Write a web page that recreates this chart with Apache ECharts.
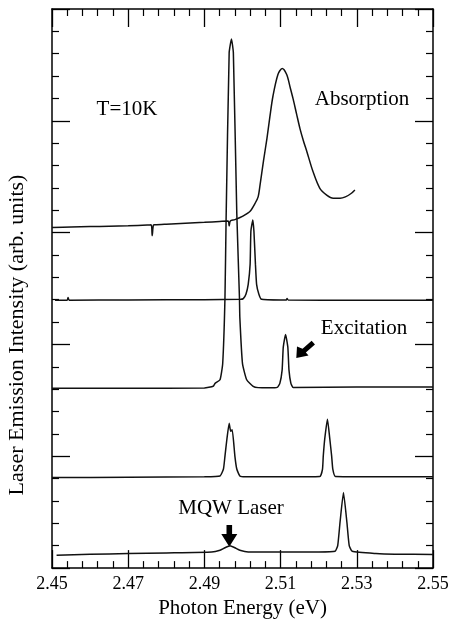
<!DOCTYPE html>
<html>
<head>
<meta charset="utf-8">
<script src="https://cdn.jsdelivr.net/npm/echarts@6/dist/echarts.min.js"></script>
<style>
html,body{margin:0;padding:0;background:#fff;}
#chart{width:453px;height:624px;}
</style>
</head>
<body>
<div id="chart"></div>
<script>
// Photon energy (eV) and intensity (arb. units, vertically offset traces)
const absE = [2.450, 2.455, 2.460, 2.465, 2.470, 2.475, 2.476, 2.4763, 2.4766, 2.477, 2.480, 2.485, 2.490, 2.494, 2.4962, 2.4965, 2.4968, 2.498, 2.5001, 2.502, 2.5033, 2.5041, 2.5046, 2.5055, 2.5064, 2.5072, 2.5080, 2.5093, 2.5104, 2.5116, 2.5125, 2.5133, 2.5142, 2.5151, 2.5160, 2.5169, 2.5185, 2.5203, 2.5221, 2.5238, 2.5256, 2.5270, 2.5285, 2.5295];
const absI = [15.23, 15.25, 15.27, 15.29, 15.31, 15.34, 15.35, 14.87, 15.33, 15.35, 15.38, 15.42, 15.46, 15.50, 15.52, 15.30, 15.52, 15.58, 15.74, 15.96, 16.31, 16.60, 17.12, 18.20, 19.19, 20.20, 21.11, 22.07, 22.34, 22.07, 21.50, 20.97, 20.30, 19.64, 19.10, 18.62, 17.73, 16.98, 16.68, 16.54, 16.54, 16.60, 16.75, 16.91];

const trace2E = [2.4508, 2.4540, 2.4542, 2.4545, 2.470, 2.490, 2.4995, 2.5002, 2.5009, 2.5015, 2.5020, 2.5022, 2.5027, 2.5030, 2.5034, 2.5037, 2.5043, 2.5050, 2.510, 2.5115, 2.5117, 2.5120, 2.530, 2.550];
const trace2I = [11.98, 11.98, 12.10, 11.98, 11.99, 12.00, 12.02, 12.05, 12.25, 12.69, 13.58, 15.06, 15.57, 15.06, 13.58, 12.69, 12.25, 12.02, 11.99, 11.99, 12.05, 11.99, 11.98, 11.98];

const excE = [2.450, 2.470, 2.490, 2.4923, 2.4928, 2.4941, 2.4948, 2.4954, 2.4957, 2.4965, 2.4971, 2.4976, 2.4985, 2.4992, 2.4993, 2.5000, 2.5011, 2.5028, 2.5041, 2.5070, 2.5091, 2.5098, 2.5104, 2.5107, 2.5113, 2.5119, 2.5122, 2.5127, 2.5133, 2.530, 2.550];
const excI = [8.04, 8.04, 8.05, 8.13, 8.26, 8.42, 9.14, 12.10, 15.65, 23.05, 23.66, 23.05, 15.87, 12.10, 11.21, 9.14, 8.42, 8.13, 8.07, 8.06, 8.08, 8.26, 8.85, 9.88, 10.45, 9.88, 8.85, 8.26, 8.08, 8.10, 8.10];

const trace4E = [2.450, 2.470, 2.490, 2.4941, 2.4950, 2.4954, 2.4959, 2.4965, 2.4969, 2.4973, 2.4980, 2.4985, 2.4993, 2.5007, 2.510, 2.5203, 2.5210, 2.5212, 2.5216, 2.5223, 2.5229, 2.5234, 2.5237, 2.5244, 2.550];
const trace4I = [4.05, 4.06, 4.08, 4.12, 4.43, 5.01, 5.76, 6.48, 6.12, 6.19, 5.01, 4.43, 4.12, 4.08, 4.08, 4.10, 4.43, 5.01, 5.80, 6.66, 5.80, 5.01, 4.43, 4.10, 4.08];

const laserE = [2.4512, 2.460, 2.470, 2.480, 2.4919, 2.4941, 2.4954, 2.4967, 2.4980, 2.4993, 2.5015, 2.510, 2.520, 2.5243, 2.5250, 2.5256, 2.5265, 2.5274, 2.5280, 2.5288, 2.535, 2.540, 2.550];
const laserI = [0.58, 0.62, 0.65, 0.68, 0.72, 0.80, 0.91, 1.00, 0.91, 0.80, 0.72, 0.72, 0.72, 0.75, 1.02, 2.05, 3.38, 2.05, 1.02, 0.75, 0.65, 0.62, 0.61];

const xTickLabels = ['2.45', '2.47', '2.49', '2.51', '2.53', '2.55'];
const E0 = 2.45; // axis origin (eV); axis runs in meV above it

const toPts = (E, I) => E.map((e, i) => [Math.round((e - E0) * 1e6) / 1e3, I[i]]);

const FONT = 'Liberation Serif';
const axisCommon = {
  type: 'value',
  axisLine: { show: true, onZero: false, lineStyle: { color: '#000', width: 1.5 } },
  axisTick: { show: true, inside: true, length: 18, lineStyle: { color: '#000', width: 1.3 } },
  minorTick: { show: true, splitNumber: 5, length: 7, lineStyle: { color: '#000', width: 1.2 } },
  splitLine: { show: false },
  minorSplitLine: { show: false }
};

const lineSeries = (name, E, I, sm) => ({
  name, type: 'line', data: toPts(E, I), showSymbol: false, symbol: 'none',
  smooth: sm, lineStyle: { color: '#111', width: 1.5 }, animation: false, z: 3
});

const chart = echarts.init(document.getElementById('chart'), null, { renderer: 'canvas' });
chart.setOption({
  backgroundColor: '#fff',
  animation: false,
  grid: { left: 52, right: 20, top: 9, bottom: 51 },
  xAxis: [
    Object.assign({}, axisCommon, {
      position: 'bottom', min: 0, max: 100, interval: 20,
      axisLabel: { show: true, margin: 7, color: '#000', fontFamily: FONT, fontSize: 18,
        formatter: v => xTickLabels[Math.round(v / 20)] },
      name: 'Photon Energy (eV)', nameLocation: 'middle', nameGap: 27,
      nameTextStyle: { color: '#000', fontFamily: FONT, fontSize: 21 }
    }),
    Object.assign({}, axisCommon, { position: 'top', min: 0, max: 100, interval: 20, axisLabel: { show: false } })
  ],
  yAxis: [
    Object.assign({}, axisCommon, { position: 'left', min: 0, max: 25, interval: 5, axisLabel: { show: false } }),
    Object.assign({}, axisCommon, { position: 'right', min: 0, max: 25, interval: 5, axisLabel: { show: false } })
  ],
  series: [
    lineSeries('Absorption', absE, absI, 0.3),
    lineSeries('Trace 2', trace2E, trace2I, 0.15),
    lineSeries('Excitation', excE, excI, 0.15),
    lineSeries('Trace 4', trace4E, trace4I, 0.15),
    lineSeries('MQW Laser', laserE, laserI, 0.15)
  ],
  graphic: [
    { type: 'text', x: 17, y: 335, rotation: Math.PI / 2, style: { text: 'Laser Emission Intensity (arb. units)', font: '22px "Liberation Serif"', fill: '#000', align: 'center', verticalAlign: 'middle' } },
    { type: 'text', x: 127, y: 109, style: { text: 'T=10K', font: '21px "Liberation Serif"', fill: '#000', align: 'center', verticalAlign: 'middle' } },
    { type: 'text', x: 362, y: 99, style: { text: 'Absorption', font: '21px "Liberation Serif"', fill: '#000', align: 'center', verticalAlign: 'middle' } },
    { type: 'text', x: 364, y: 328, style: { text: 'Excitation', font: '21px "Liberation Serif"', fill: '#000', align: 'center', verticalAlign: 'middle' } },
    { type: 'text', x: 231, y: 508, style: { text: 'MQW Laser', font: '21px "Liberation Serif"', fill: '#000', align: 'center', verticalAlign: 'middle' } },
    { type: 'polygon', shape: { points: [[296.3, 358], [308.5, 355.6], [305.85, 352.6], [314.95, 344.6], [311.65, 340.8], [302.55, 348.8], [297, 346.5]] }, style: { fill: '#000' } },
    { type: 'polygon', shape: { points: [[226.5, 525], [232.1, 525], [232.1, 534], [237.3, 534], [229.3, 546.7], [221.3, 534], [226.5, 534]] }, style: { fill: '#000' } }
  ]
});
</script>
</body>
</html>
